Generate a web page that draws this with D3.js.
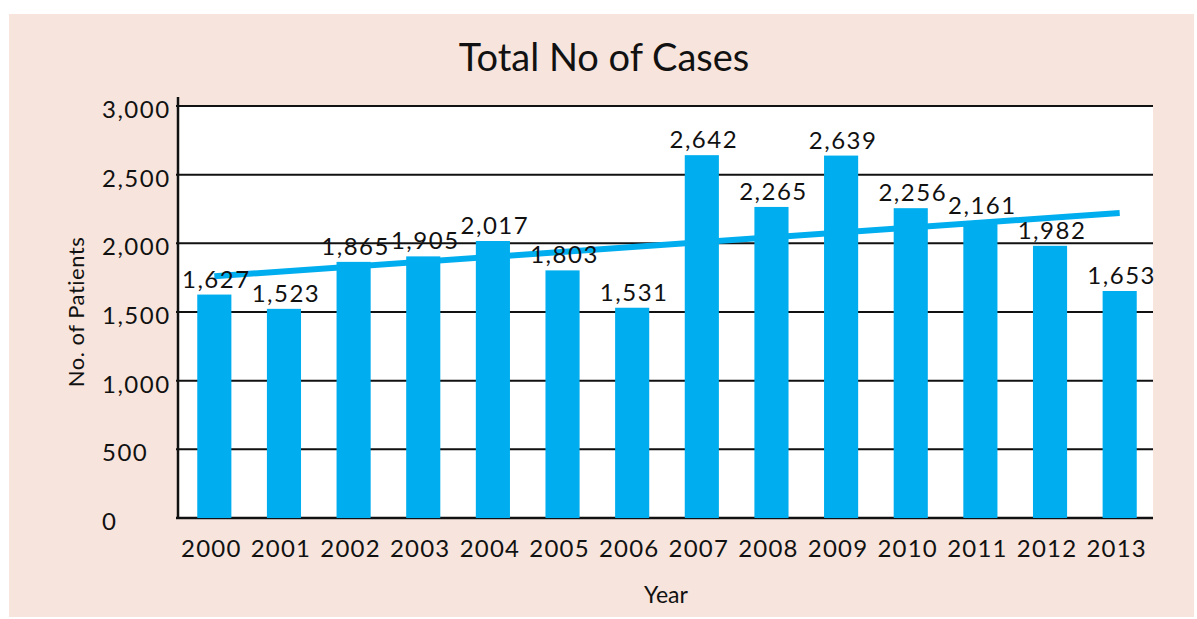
<!DOCTYPE html>
<html>
<head>
<meta charset="utf-8">
<script src="https://cdn.jsdelivr.net/npm/d3@7"></script>
<style>
  html, body { margin: 0; padding: 0; background: #ffffff; }
  svg { display: block; }
  text { font-family: Lato, "Open Sans", sans-serif; fill: #111; }
</style>
</head>
<body>
<svg id="chart" width="1197" height="619"></svg>
<script>
// ---- data ----
const years = ["2000","2001","2002","2003","2004","2005","2006","2007","2008","2009","2010","2011","2012","2013"];
const cases = [1627,1523,1865,1905,2017,1803,1531,2642,2265,2639,2256,2161,1982,1653];
const yTicks = [0,500,1000,1500,2000,2500,3000];
const title = "Total No of Cases";
const xTitle = "Year";
const yTitle = "No. of Patients";

const W = 1197, H = 619;
const svg = d3.select("#chart");
const blue = "#00aeef";

// background panel
svg.append("rect").attr("x", 9).attr("y", 14).attr("width", 1185).attr("height", 603)
  .attr("fill", "#f7e4dc");

const plot = {left: 178, right: 1153, top: 106, bottom: 518};

const y = d3.scaleLinear().domain([0, 3000]).range([plot.bottom, plot.top]);
const x = d3.scaleBand().domain(years).range([plot.left + 1.5, plot.right + 1.5])
  .paddingInner(0.51).paddingOuter(0.255);

// plot background
svg.append("rect").attr("x", plot.left).attr("y", plot.top)
  .attr("width", plot.right - plot.left).attr("height", plot.bottom - plot.top)
  .attr("fill", "#ffffff");

// gridlines
svg.append("g").selectAll("line").data(yTicks).join("line")
  .attr("x1", plot.left - 2).attr("x2", plot.right)
  .attr("y1", d => y(d)).attr("y2", d => y(d))
  .attr("stroke", "#111").attr("stroke-width", d => d === 0 ? 2.5 : 2);

// y tick labels (left aligned)
svg.append("g").selectAll("text").data(yTicks).join("text")
  .attr("x", 102).attr("y", d => y(d) + 12)
  .attr("font-size", 24).attr("letter-spacing", 1.5)
  .text(d => d3.format(",")(d));

// bars
svg.append("g").selectAll("rect").data(cases).join("rect")
  .attr("x", (d, i) => x(years[i]))
  .attr("width", x.bandwidth())
  .attr("y", d => y(d))
  .attr("height", d => y(0) - y(d))
  .attr("fill", blue);

// y axis line
svg.append("line").attr("x1", plot.left).attr("x2", plot.left)
  .attr("y1", plot.top - 9).attr("y2", plot.bottom + 1)
  .attr("stroke", "#111").attr("stroke-width", 2.5);

// linear trend line (least squares over the data)
const n = cases.length;
const mx = d3.mean(d3.range(n)), my = d3.mean(cases);
const slope = d3.sum(cases, (v, i) => (i - mx) * (v - my)) / d3.sum(d3.range(n), i => (i - mx) ** 2);
const icpt = my - slope * mx;
const trend = [0, n - 1].map(i => [x(years[i]) + x.bandwidth() / 2, y(icpt + slope * i)]);
svg.append("path").attr("d", d3.line()(trend))
  .attr("stroke", blue).attr("stroke-width", 6).attr("fill", "none");

// value labels
svg.append("g").selectAll("text").data(cases).join("text")
  .attr("x", (d, i) => x(years[i]) + x.bandwidth() / 2 + 2)
  .attr("y", d => y(d) - 7)
  .attr("text-anchor", "middle")
  .attr("font-size", 24).attr("letter-spacing", 1.5)
  .text(d => d3.format(",")(d));

// x tick labels
svg.append("g").selectAll("text").data(years).join("text")
  .attr("x", d => x(d) + x.bandwidth() / 2 - 3)
  .attr("y", 557)
  .attr("text-anchor", "middle")
  .attr("font-size", 24).attr("letter-spacing", 1.2)
  .text(d => d);

// titles
svg.append("text").attr("x", 604).attr("y", 71).attr("text-anchor", "middle")
  .attr("font-size", 38).text(title);
svg.append("text").attr("x", 666).attr("y", 603).attr("text-anchor", "middle")
  .attr("font-size", 23).text(xTitle);
svg.append("text")
  .attr("transform", `translate(84, ${(plot.top + plot.bottom) / 2}) rotate(-90)`)
  .attr("text-anchor", "middle")
  .attr("font-size", 22).attr("letter-spacing", 0.5).text(yTitle);
</script>
</body>
</html>
